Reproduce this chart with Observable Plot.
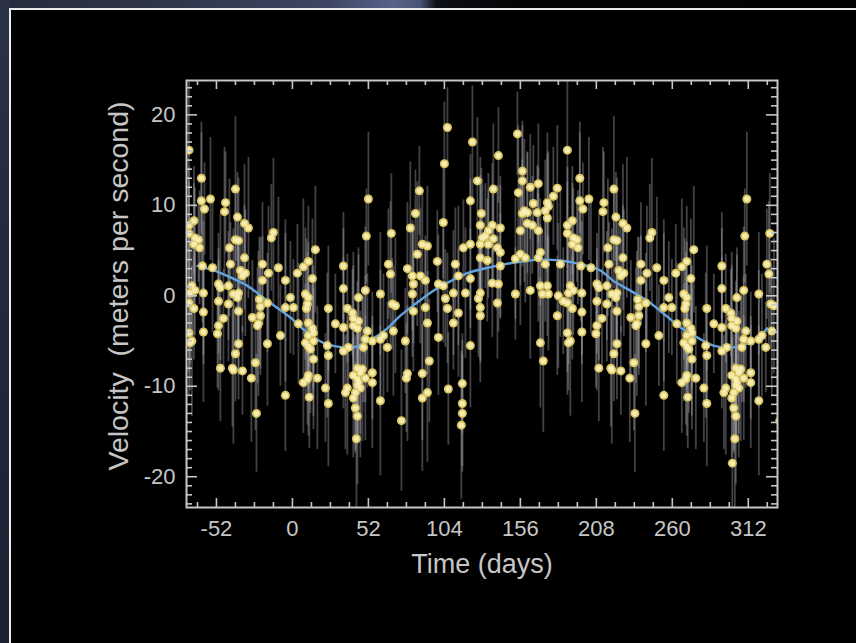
<!DOCTYPE html>
<html>
<head>
<meta charset="utf-8">
<script src="https://cdn.jsdelivr.net/npm/d3@7"></script>
<script src="https://cdn.jsdelivr.net/npm/@observablehq/plot@0.6"></script>
<style>
html, body { margin: 0; padding: 0; width: 856px; height: 643px; overflow: hidden; }
body { position: relative; background: linear-gradient(90deg, #262c3c 0%, #2e3649 20%, #3c4662 38%, #56628a 46%, #4a5476 49%, #0c0e14 51%, #050506 60%, #020202 100%); }
#leftstrip { position: absolute; left: 0; top: 0; width: 10px; height: 643px; background: linear-gradient(180deg, #2b3346 0%, #242b3d 35%, #1b2131 100%); }
#panel { position: absolute; left: 9px; top: 8px; width: 847px; height: 635px; background: #000; border-left: 2px solid #ececec; border-top: 2px solid #ececec; box-sizing: border-box; }
#chart { position: absolute; left: 0; top: 0; }
</style>
</head>
<body>
<div id="leftstrip"></div>
<div id="panel"></div>
<div id="chart"></div>
<script>
// ---- observations (one folded cycle; the chart shows it again one period later) ----
const days = [
-62.3,-62.3,-60.2,-56.1,-39.0,-45.8,-46.5,-37.6,-32.8,-30.1,
-39.0,-36.9,-43.1,-32.8,-64.3,-63.6,-13.0,-14.4,15.7,10.9,
52.0,50.6,67.7,-70.8,-70.8,-67.4,-70.8,-66.7,-67.4,-70.1,
-66.7,-68.8,-70.8,-67.4,-70.8,-68.8,-70.1,-61.6,-54.7,-42.4,
-20.5,7.5,34.9,65.7,-9.6,3.4,13.7,67.1,-35.6,-32.2,
-34.2,-20.5,-16.4,-4.8,-50.6,-49.3,-43.8,-40.4,-36.9,-37.6,
-60.9,-50.6,-43.8,-36.9,-60.9,-22.6,-21.9,-17.1,-1.4,-4.8,
0.7,8.9,10.9,10.3,9.6,34.9,45.2,49.9,60.2,68.4,
70.5,-27.4,-21.9,-23.3,-23.9,-47.2,-50.6,-51.3,-60.9,-8.2,
4.1,10.9,13.7,14.4,10.9,14.4,8.9,10.9,12.3,24.6,
29.4,34.9,37.6,41.1,41.7,41.7,44.5,45.2,51.3,49.9,
48.6,54.7,60.2,62.3,65.0,69.1,23.9,24.6,34.9,38.3,
14.4,-36.9,-39.0,-17.1,-25.3,-49.3,-41.1,-40.4,-34.2,-28.1,
7.5,10.9,17.1,10.3,22.6,37.6,36.3,44.5,47.9,46.5,
41.7,44.5,45.2,44.5,46.5,43.1,54.7,49.9,54.7,41.7,
43.1,44.5,60.2,-4.8,11.6,24.6,-24.6,43.8,74.6,301.1,
106.1,123.2,154.0,104.0,141.0,86.9,126.6,157.4,157.4,154.6,
162.8,168.3,137.5,121.8,181.3,178.6,174.5,175.2,173.1,174.5,
164.9,167.6,158.7,160.8,157.4,84.2,80.7,103.3,129.3,128.6,
136.8,142.3,134.1,160.8,164.2,156.0,168.3,88.9,92.4,85.5,
117.0,121.8,130.0,132.1,128.6,134.1,137.5,140.3,142.3,99.2,
111.5,156.0,159.4,152.6,168.3,169.7,173.1,183.4,128.6,133.4,
78.7,142.3,82.1,87.6,91.0,82.8,82.1,99.9,103.3,113.6,
121.8,110.2,118.4,136.8,141.0,128.6,127.3,128.6,128.6,140.3,
152.6,162.8,169.7,174.5,171.1,175.2,182.0,185.4,181.3,169.7,
171.7,104.7,106.1,91.0,92.4,82.8,110.2,113.6,99.9,121.8,
77.3,78.7,78.0,93.7,88.9,106.7,116.3,92.4,88.9,116.3,
116.3,115.6
];
const velocity = [
13.0,10.5,9.6,10.7,11.8,10.3,9.3,8.7,8.0,7.5,
6.2,6.1,5.3,4.2,6.2,5.3,7.0,6.4,5.1,3.8,
10.7,6.6,6.9,16.1,7.8,8.3,6.9,6.4,5.7,0.3,
0.6,1.1,-0.8,-1.4,-4.1,-5.0,-5.2,3.3,3.1,3.5,
3.5,3.2,3.3,3.5,3.1,2.5,1.9,2.4,2.8,2.5,
2.2,1.7,2.5,1.7,1.3,0.9,1.1,0.2,0.3,-0.2,
0.3,-0.6,-0.9,-1.7,-1.8,-0.4,-1.2,-0.8,-0.2,-1.3,
-1.3,0.2,-0.2,-0.9,-1.4,0.8,-0.2,0.6,0.2,-0.9,
-1.1,-2.4,-2.2,-3.1,-3.3,-2.5,-3.3,-4.2,-4.0,-4.4,
-3.1,-3.0,-3.6,-4.1,-4.4,-5.0,-5.2,-5.6,-5.9,-1.4,
-3.1,-3.5,-1.4,-1.9,-2.5,-3.3,-3.6,-2.8,-3.9,-4.8,
-5.7,-5.0,-4.8,-4.4,-5.7,-3.9,-5.5,-6.6,-6.1,-5.7,
-7.0,-5.3,-6.4,-5.3,-7.4,-8.0,-8.0,-8.2,-8.3,-9.1,
-9.6,-8.8,-9.1,-9.2,-10.2,-10.2,-10.7,-8.0,-8.1,-8.5,
-8.8,-9.2,-9.6,-9.9,-10.2,-10.7,-8.5,-9.1,-9.6,-11.3,
-12.4,-13.3,-11.6,-11.0,-11.2,-11.9,-13.0,-15.8,-13.8,-18.5,
18.6,17.0,17.9,14.6,15.5,11.6,12.7,13.8,12.7,11.4,
12.0,12.4,11.8,10.5,11.9,11.0,10.3,9.9,9.4,8.6,
10.2,9.2,9.4,9.2,9.1,9.1,7.5,8.1,9.1,7.8,
7.8,7.5,7.2,8.0,7.8,7.2,7.2,5.7,5.5,4.6,
5.3,5.7,6.4,6.6,5.7,5.7,6.3,5.3,4.8,3.8,
3.5,4.6,4.2,4.1,4.2,4.8,3.5,3.5,4.2,3.9,
3.0,3.3,2.2,2.2,1.7,1.3,0.2,1.3,1.1,2.2,
1.9,0.3,0.3,1.4,1.3,0.3,-0.3,-1.3,-2.2,-0.8,
0.2,0.6,1.1,1.1,0.2,0.2,0.0,-0.6,-2.2,-5.2,
-7.2,-0.3,-1.4,-1.3,-3.0,-1.7,-3.0,-1.9,-4.6,-5.5,
-5.0,-8.6,-9.1,-7.2,-8.6,-10.3,-9.7,-10.7,-11.3,-11.9,
-13.0,-14.3
];
const uncertainty = [
6.2,7.5,5.1,6.8,8.0,5.6,7.1,4.9,6.5,7.8,
5.4,6.9,7.6,5.8,4.7,6.3,8.2,5.9,7.0,6.1,
7.4,5.2,6.6,8.1,4.8,6.0,7.3,5.5,6.7,7.9,
5.0,6.4,7.7,5.7,6.9,8.3,5.3,6.2,7.2,4.6,
6.8,7.5,5.9,6.1,7.8,5.4,6.6,8.0,5.1,7.0,
6.3,4.9,7.4,6.7,5.6,8.1,6.0,7.2,5.2,6.5,
7.9,5.8,6.4,7.1,4.8,6.9,7.6,5.5,6.2,8.2,
5.3,7.3,6.1,5.7,7.7,6.6,4.7,7.0,6.8,5.0,
7.5,6.3,5.9,8.0,6.4,5.4,7.2,6.0,7.8,5.6,
6.7,4.9,7.4,6.2,5.8,8.3,6.5,5.1,7.1,6.9,
5.5,7.7,6.0,4.8,7.3,6.6,5.2,8.1,6.3,7.0,
6.1,5.4,7.6,6.8,5.0,7.2,8.0,5.7,6.4,4.7,
7.8,6.2,5.3,6.9,7.5,5.9,6.5,8.2,4.9,7.1,
5.6,6.7,7.9,5.1,6.0,7.4,6.3,5.5,8.0,6.8,
4.8,7.2,6.1,5.8,7.7,6.4,5.2,6.9,7.3,6.6,
5.0,7.6,8.3,6.2,5.7,7.0,6.5,8.0,7.8,6.3,
4.4,6.2,4.6,6.8,5.3,4.9,7.0,5.5,6.1,7.4,
5.8,6.6,7.2,5.1,6.9,5.4,7.7,6.0,5.6,7.1,
6.4,5.2,7.9,6.7,5.9,4.8,7.3,6.2,5.0,7.5,
6.8,5.7,6.3,7.8,5.4,6.1,7.0,5.5,6.6,8.0,
5.3,7.2,6.5,5.8,7.6,6.0,5.1,6.9,7.4,5.6,
6.2,7.9,5.0,6.7,7.1,5.9,6.4,8.1,5.2,6.8,
7.3,5.7,6.1,7.5,4.9,6.6,7.0,5.4,6.3,7.7,
5.5,6.9,7.2,6.0,5.3,7.8,6.5,5.8,7.4,6.2,
5.1,7.6,6.8,5.6,7.0,6.3,8.0,5.9,6.6,7.2,
7.9,5.4,6.1,7.3,5.7,6.7,5.2,7.1,6.4,6.9,
5.8,7.5,6.0,6.8,7.4,6.2,5.5,7.7,8.1,7.0,
6.5,8.2
];
const period = 259;          // days between the two drawn cycles

// ---- fitted orbit curve ----
const fitDays = [-65,-54,-42,-30.8,-15,-1.4,10.3,21.2,34.9,41.7,53.4,65,73.9,85,96.5,108,119.7,135,149.2,160,169.7,183.4,197,210.7,219.6,231,242.9,255,265.5,277,288,301.7,315.4,325];
const fitVelocity = [3.3,2.8,2.0,1.1,-0.8,-2.4,-4.1,-5.2,-5.7,-5.7,-4.9,-3.6,-2.2,-0.8,0.55,1.6,2.5,3.15,3.6,3.85,4.0,3.9,3.5,2.8,1.65,0.6,-0.55,-2.1,-3.5,-4.6,-5.5,-5.7,-5.0,-3.6];

// ---- ticks ----
const xMajor = [-52, 0, 52, 104, 156, 208, 260, 312];
const xMinor = [-65,-39,-26,-13,13,26,39,65,78,91,117,130,143,169,182,195,221,234,247,273,286,299,325];
const yMajor = [-20, -10, 0, 10, 20];
const yMinor = d3.range(-23, 24).filter(v => v % 10 !== 0);

const xDomain = [-72.5, 332];
const yDomain = [-23.4, 23.8];

const base = days.map((t, i) => ({t, v: velocity[i], e: uncertainty[i] ?? 6}));
const obs = base.concat(base.map(d => ({...d, t: d.t + period})))
  .filter(d => d.t >= xDomain[0] - 4 && d.t <= xDomain[1] + 4);
const fit = fitDays.map((t, i) => ({t, v: fitVelocity[i]}));

const W = 856, H = 643, mL = 186, mR = 79, mT = 80, mB = 136;
const pw = W - mL - mR, ph = H - mT - mB;
const grey = "#c6c6c6";
const font = "'Liberation Sans', Arial, Helvetica, sans-serif";

const chart = Plot.plot({
  width: W, height: H,
  marginLeft: mL, marginRight: mR, marginTop: mT, marginBottom: mB,
  style: {background: "transparent", color: grey, fontFamily: font},
  x: {domain: xDomain, label: null},
  y: {domain: yDomain, label: null},
  marks: [
    Plot.ruleX(obs, {x: "t", y1: d => d.v - d.e, y2: d => d.v + d.e, stroke: "#a4a4ac", strokeOpacity: 0.4, strokeWidth: 1.8, clip: true}),
    Plot.line(fit, {x: "t", y: "v", stroke: "#62a2de", strokeWidth: 2.4, curve: "catmull-rom", clip: true}),
    Plot.dot(obs, {x: "t", y: "v", r: 4.5, fill: "#d8c55e", clip: true}),
    Plot.dot(obs, {x: "t", y: "v", r: 2.8, fill: "#fbf1c0", fillOpacity: 0.85, clip: true}),
    // inward frame ticks, all four sides
    Plot.tickX(xMajor, {x: d => d, insetTop: ph - 9, stroke: grey, strokeWidth: 1.6}),
    Plot.tickX(xMinor, {x: d => d, insetTop: ph - 5, stroke: grey, strokeWidth: 1.6}),
    Plot.tickX(xMajor, {x: d => d, insetBottom: ph - 9, stroke: grey, strokeWidth: 1.6}),
    Plot.tickX(xMinor, {x: d => d, insetBottom: ph - 5, stroke: grey, strokeWidth: 1.6}),
    Plot.tickY(yMajor, {y: d => d, insetRight: pw - 11, stroke: grey, strokeWidth: 1.6}),
    Plot.tickY(yMinor, {y: d => d, insetRight: pw - 6, stroke: grey, strokeWidth: 1.6}),
    Plot.tickY(yMajor, {y: d => d, insetLeft: pw - 11, stroke: grey, strokeWidth: 1.6}),
    Plot.tickY(yMinor, {y: d => d, insetLeft: pw - 6, stroke: grey, strokeWidth: 1.6}),
    Plot.frame({stroke: grey, strokeWidth: 2}),
    Plot.axisX({ticks: xMajor, tickSize: 0, tickPadding: 13, fontSize: 22, tickFormat: d => String(d), label: null, fill: grey}),
    Plot.axisY({ticks: yMajor, tickSize: 0, tickPadding: 11, fontSize: 22, tickFormat: d => String(d), label: null, fill: grey}),
    Plot.text(["Time (days)"], {text: d => d, frameAnchor: "bottom", textAnchor: "middle", dy: 57, fontSize: 27, fill: grey, lineAnchor: "middle"}),
    Plot.text(["Velocity\u00a0 (meters per second)"], {text: d => d, frameAnchor: "left", textAnchor: "middle", lineAnchor: "middle", rotate: -90, dx: -68, dy: -8, fontSize: 28.5, fill: grey})
  ]
});
document.getElementById("chart").appendChild(chart);
</script>
</body>
</html>
